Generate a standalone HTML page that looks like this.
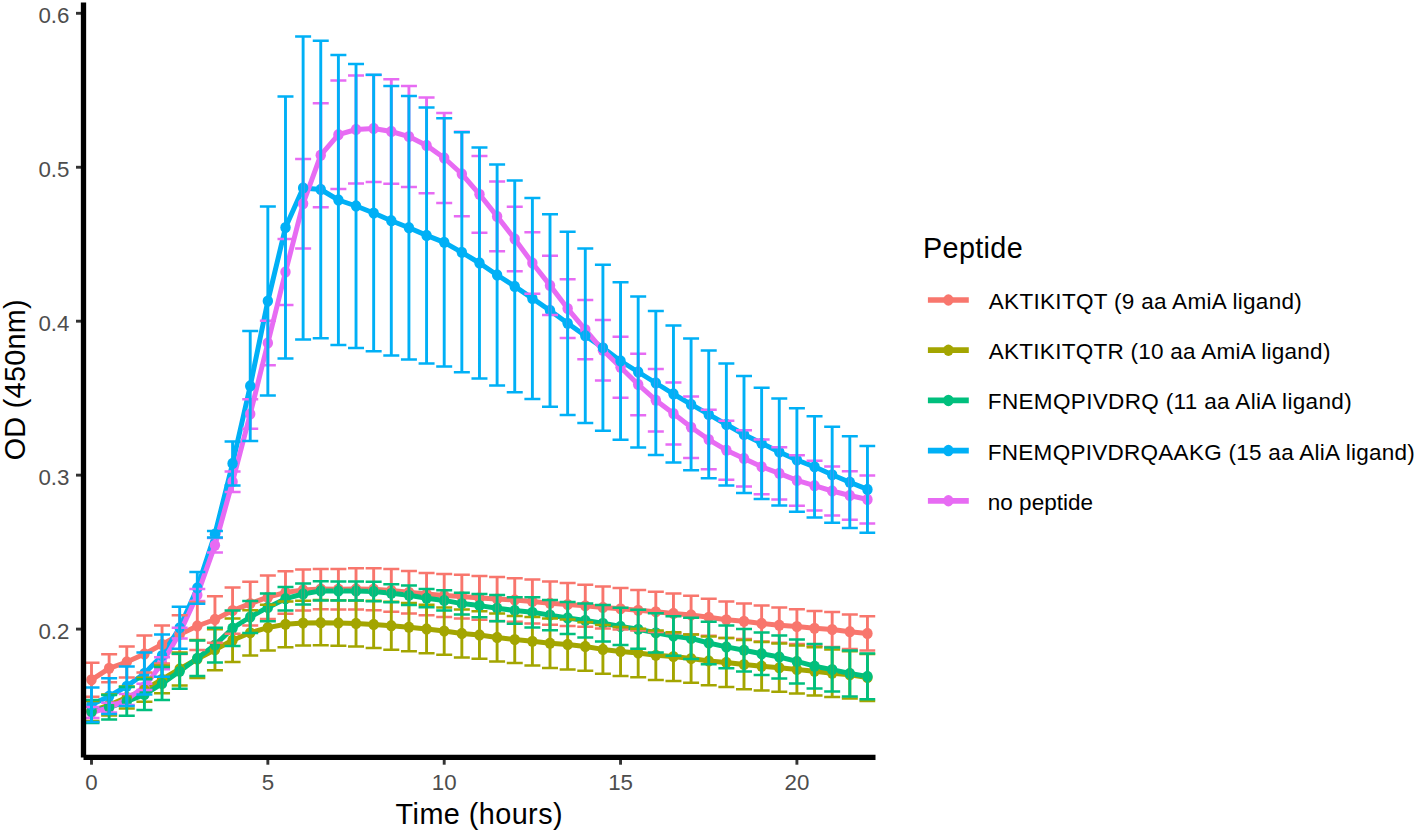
<!DOCTYPE html>
<html>
<head>
<meta charset="utf-8">
<title>Peptide growth curves</title>
<style>
html, body { margin: 0; padding: 0; background: #ffffff; }
body { width: 1416px; height: 833px; overflow: hidden; font-family: "Liberation Sans", sans-serif; }
svg { display: block; position: absolute; left: 0; top: 0; }
svg text { font-family: "Liberation Sans", sans-serif; }
</style>
</head>
<body>
<svg width="1416" height="833" viewBox="0 0 1416 833">
<defs><clipPath id="panel"><rect x="83.5" y="0" width="792" height="757.2"/></clipPath></defs>
<rect x="0" y="0" width="1416" height="833" fill="#ffffff"/>
<g clip-path="url(#panel)">
<polyline fill="none" stroke="#F8766D" stroke-width="5.0" stroke-linejoin="round" stroke-linecap="butt" points="91.5,679.8 109.14,668.3 126.77,662 144.41,654 162.04,644.5 179.68,634.6 197.31,626 214.94,619.5 232.58,610.6 250.22,603.6 267.85,597.2 285.49,592.5 303.12,589.9 320.75,589.1 338.39,589.2 356.03,588.9 373.66,589.2 391.3,590.4 408.93,592.3 426.57,594.1 444.2,595.5 461.84,596.6 479.47,597.9 497.11,599 514.74,600 532.38,601.5 550.01,603.2 567.64,604.6 585.28,605.8 602.91,607.4 620.55,608.8 638.19,610.3 655.82,611.8 673.46,613.4 691.09,615 708.73,617.3 726.36,619.8 744,621.3 761.63,623.5 779.27,625.2 796.9,626.6 814.54,628.3 832.17,629.6 849.81,631.7 867.44,633.4"/>
<polyline fill="none" stroke="#A3A500" stroke-width="5.0" stroke-linejoin="round" stroke-linecap="butt" points="91.5,711 109.14,705 126.77,697.5 144.41,689.8 162.04,679.3 179.68,669 197.31,659 214.94,649.8 232.58,640.2 250.22,632.8 267.85,627.6 285.49,624.3 303.12,623.1 320.75,622.7 338.39,623 356.03,623.4 373.66,624.4 391.3,625.7 408.93,627.2 426.57,629 444.2,631.1 461.84,633.5 479.47,635 497.11,637.5 514.74,639.6 532.38,641.3 550.01,643.2 567.64,644.5 585.28,646.5 602.91,649.4 620.55,651.4 638.19,653 655.82,655.3 673.46,656.6 691.09,658.6 708.73,660.9 726.36,662.4 744,664.6 761.63,666.2 779.27,667.7 796.9,669.4 814.54,671.3 832.17,673.2 849.81,674.85 867.44,677.5"/>
<polyline fill="none" stroke="#00BF7D" stroke-width="5.0" stroke-linejoin="round" stroke-linecap="butt" points="91.5,711.5 109.14,707.3 126.77,701.4 144.41,694.6 162.04,683.6 179.68,671.3 197.31,658.3 214.94,645.1 232.58,628.2 250.22,617 267.85,607.4 285.49,598.7 303.12,594 320.75,590.9 338.39,590.9 356.03,591 373.66,591.5 391.3,593.3 408.93,595.3 426.57,598.2 444.2,600.4 461.84,603.6 479.47,605.6 497.11,608.2 514.74,610.5 532.38,612.3 550.01,615.1 567.64,618 585.28,620.4 602.91,623.3 620.55,626.4 638.19,629.3 655.82,632.8 673.46,636 691.09,638.4 708.73,643 726.36,646.9 744,650.2 761.63,653.7 779.27,657 796.9,661.4 814.54,666.2 832.17,669.6 849.81,673.5 867.44,676.4"/>
<polyline fill="none" stroke="#00B0F6" stroke-width="5.0" stroke-linejoin="round" stroke-linecap="butt" points="91.5,704.7 109.14,696.2 126.77,686.3 144.41,673.5 162.04,655.6 179.68,627.8 197.31,587.9 214.94,534.2 232.58,463.5 250.22,386 267.85,301.1 285.49,227.6 303.12,188 320.75,189.5 338.39,200 356.03,206 373.66,213.05 391.3,220.7 408.93,227.75 426.57,235.4 444.2,242.3 461.84,252.3 479.47,263 497.11,275 514.74,286.4 532.38,298.4 550.01,310.5 567.64,323.3 585.28,335.7 602.91,347.8 620.55,361 638.19,372 655.82,383 673.46,394 691.09,404.4 708.73,414.4 726.36,424.5 744,434.5 761.63,443.3 779.27,452 796.9,460 814.54,466.8 832.17,474.8 849.81,482.2 867.44,489.4"/>
<polyline fill="none" stroke="#E76BF3" stroke-width="5.0" stroke-linejoin="round" stroke-linecap="butt" points="91.5,712.6 109.14,707.6 126.77,699.6 144.41,686.8 162.04,663.2 179.68,633.2 197.31,594.9 214.94,545.3 232.58,481.7 250.22,414 267.85,343 285.49,272 303.12,203.7 320.75,155.2 338.39,134.7 356.03,129.5 373.66,128.5 391.3,131.5 408.93,136.6 426.57,145.4 444.2,158 461.84,174 479.47,194.3 497.11,216.4 514.74,239 532.38,263 550.01,285.4 567.64,308.6 585.28,329.6 602.91,350.3 620.55,367.2 638.19,384.5 655.82,400.2 673.46,413.6 691.09,427.3 708.73,439.55 726.36,450.2 744,458.45 761.63,466.8 779.27,473.35 796.9,480.4 814.54,485.65 832.17,491 849.81,495.5 867.44,499.5"/>
<g fill="#E76BF3">
<ellipse cx="91.5" cy="712.6" rx="5.2" ry="5.65"/>
<ellipse cx="109.14" cy="707.6" rx="5.2" ry="5.65"/>
<ellipse cx="126.77" cy="699.6" rx="5.2" ry="5.65"/>
<ellipse cx="144.41" cy="686.8" rx="5.2" ry="5.65"/>
<ellipse cx="162.04" cy="663.2" rx="5.2" ry="5.65"/>
<ellipse cx="179.68" cy="633.2" rx="5.2" ry="5.65"/>
<ellipse cx="197.31" cy="594.9" rx="5.2" ry="5.65"/>
<ellipse cx="214.94" cy="545.3" rx="5.2" ry="5.65"/>
<ellipse cx="232.58" cy="481.7" rx="5.2" ry="5.65"/>
<ellipse cx="250.22" cy="414" rx="5.2" ry="5.65"/>
<ellipse cx="267.85" cy="343" rx="5.2" ry="5.65"/>
<ellipse cx="285.49" cy="272" rx="5.2" ry="5.65"/>
<ellipse cx="303.12" cy="203.7" rx="5.2" ry="5.65"/>
<ellipse cx="320.75" cy="155.2" rx="5.2" ry="5.65"/>
<ellipse cx="338.39" cy="134.7" rx="5.2" ry="5.65"/>
<ellipse cx="356.03" cy="129.5" rx="5.2" ry="5.65"/>
<ellipse cx="373.66" cy="128.5" rx="5.2" ry="5.65"/>
<ellipse cx="391.3" cy="131.5" rx="5.2" ry="5.65"/>
<ellipse cx="408.93" cy="136.6" rx="5.2" ry="5.65"/>
<ellipse cx="426.57" cy="145.4" rx="5.2" ry="5.65"/>
<ellipse cx="444.2" cy="158" rx="5.2" ry="5.65"/>
<ellipse cx="461.84" cy="174" rx="5.2" ry="5.65"/>
<ellipse cx="479.47" cy="194.3" rx="5.2" ry="5.65"/>
<ellipse cx="497.11" cy="216.4" rx="5.2" ry="5.65"/>
<ellipse cx="514.74" cy="239" rx="5.2" ry="5.65"/>
<ellipse cx="532.38" cy="263" rx="5.2" ry="5.65"/>
<ellipse cx="550.01" cy="285.4" rx="5.2" ry="5.65"/>
<ellipse cx="567.64" cy="308.6" rx="5.2" ry="5.65"/>
<ellipse cx="585.28" cy="329.6" rx="5.2" ry="5.65"/>
<ellipse cx="602.91" cy="350.3" rx="5.2" ry="5.65"/>
<ellipse cx="620.55" cy="367.2" rx="5.2" ry="5.65"/>
<ellipse cx="638.19" cy="384.5" rx="5.2" ry="5.65"/>
<ellipse cx="655.82" cy="400.2" rx="5.2" ry="5.65"/>
<ellipse cx="673.46" cy="413.6" rx="5.2" ry="5.65"/>
<ellipse cx="691.09" cy="427.3" rx="5.2" ry="5.65"/>
<ellipse cx="708.73" cy="439.55" rx="5.2" ry="5.65"/>
<ellipse cx="726.36" cy="450.2" rx="5.2" ry="5.65"/>
<ellipse cx="744" cy="458.45" rx="5.2" ry="5.65"/>
<ellipse cx="761.63" cy="466.8" rx="5.2" ry="5.65"/>
<ellipse cx="779.27" cy="473.35" rx="5.2" ry="5.65"/>
<ellipse cx="796.9" cy="480.4" rx="5.2" ry="5.65"/>
<ellipse cx="814.54" cy="485.65" rx="5.2" ry="5.65"/>
<ellipse cx="832.17" cy="491" rx="5.2" ry="5.65"/>
<ellipse cx="849.81" cy="495.5" rx="5.2" ry="5.65"/>
<ellipse cx="867.44" cy="499.5" rx="5.2" ry="5.65"/>
</g>
<g fill="#F8766D">
<ellipse cx="91.5" cy="679.8" rx="5.2" ry="5.65"/>
<ellipse cx="109.14" cy="668.3" rx="5.2" ry="5.65"/>
<ellipse cx="126.77" cy="662" rx="5.2" ry="5.65"/>
<ellipse cx="144.41" cy="654" rx="5.2" ry="5.65"/>
<ellipse cx="162.04" cy="644.5" rx="5.2" ry="5.65"/>
<ellipse cx="179.68" cy="634.6" rx="5.2" ry="5.65"/>
<ellipse cx="197.31" cy="626" rx="5.2" ry="5.65"/>
<ellipse cx="214.94" cy="619.5" rx="5.2" ry="5.65"/>
<ellipse cx="232.58" cy="610.6" rx="5.2" ry="5.65"/>
<ellipse cx="250.22" cy="603.6" rx="5.2" ry="5.65"/>
<ellipse cx="267.85" cy="597.2" rx="5.2" ry="5.65"/>
<ellipse cx="285.49" cy="592.5" rx="5.2" ry="5.65"/>
<ellipse cx="303.12" cy="589.9" rx="5.2" ry="5.65"/>
<ellipse cx="320.75" cy="589.1" rx="5.2" ry="5.65"/>
<ellipse cx="338.39" cy="589.2" rx="5.2" ry="5.65"/>
<ellipse cx="356.03" cy="588.9" rx="5.2" ry="5.65"/>
<ellipse cx="373.66" cy="589.2" rx="5.2" ry="5.65"/>
<ellipse cx="391.3" cy="590.4" rx="5.2" ry="5.65"/>
<ellipse cx="408.93" cy="592.3" rx="5.2" ry="5.65"/>
<ellipse cx="426.57" cy="594.1" rx="5.2" ry="5.65"/>
<ellipse cx="444.2" cy="595.5" rx="5.2" ry="5.65"/>
<ellipse cx="461.84" cy="596.6" rx="5.2" ry="5.65"/>
<ellipse cx="479.47" cy="597.9" rx="5.2" ry="5.65"/>
<ellipse cx="497.11" cy="599" rx="5.2" ry="5.65"/>
<ellipse cx="514.74" cy="600" rx="5.2" ry="5.65"/>
<ellipse cx="532.38" cy="601.5" rx="5.2" ry="5.65"/>
<ellipse cx="550.01" cy="603.2" rx="5.2" ry="5.65"/>
<ellipse cx="567.64" cy="604.6" rx="5.2" ry="5.65"/>
<ellipse cx="585.28" cy="605.8" rx="5.2" ry="5.65"/>
<ellipse cx="602.91" cy="607.4" rx="5.2" ry="5.65"/>
<ellipse cx="620.55" cy="608.8" rx="5.2" ry="5.65"/>
<ellipse cx="638.19" cy="610.3" rx="5.2" ry="5.65"/>
<ellipse cx="655.82" cy="611.8" rx="5.2" ry="5.65"/>
<ellipse cx="673.46" cy="613.4" rx="5.2" ry="5.65"/>
<ellipse cx="691.09" cy="615" rx="5.2" ry="5.65"/>
<ellipse cx="708.73" cy="617.3" rx="5.2" ry="5.65"/>
<ellipse cx="726.36" cy="619.8" rx="5.2" ry="5.65"/>
<ellipse cx="744" cy="621.3" rx="5.2" ry="5.65"/>
<ellipse cx="761.63" cy="623.5" rx="5.2" ry="5.65"/>
<ellipse cx="779.27" cy="625.2" rx="5.2" ry="5.65"/>
<ellipse cx="796.9" cy="626.6" rx="5.2" ry="5.65"/>
<ellipse cx="814.54" cy="628.3" rx="5.2" ry="5.65"/>
<ellipse cx="832.17" cy="629.6" rx="5.2" ry="5.65"/>
<ellipse cx="849.81" cy="631.7" rx="5.2" ry="5.65"/>
<ellipse cx="867.44" cy="633.4" rx="5.2" ry="5.65"/>
</g>
<g fill="#A3A500">
<ellipse cx="91.5" cy="711" rx="5.2" ry="5.65"/>
<ellipse cx="109.14" cy="705" rx="5.2" ry="5.65"/>
<ellipse cx="126.77" cy="697.5" rx="5.2" ry="5.65"/>
<ellipse cx="144.41" cy="689.8" rx="5.2" ry="5.65"/>
<ellipse cx="162.04" cy="679.3" rx="5.2" ry="5.65"/>
<ellipse cx="179.68" cy="669" rx="5.2" ry="5.65"/>
<ellipse cx="197.31" cy="659" rx="5.2" ry="5.65"/>
<ellipse cx="214.94" cy="649.8" rx="5.2" ry="5.65"/>
<ellipse cx="232.58" cy="640.2" rx="5.2" ry="5.65"/>
<ellipse cx="250.22" cy="632.8" rx="5.2" ry="5.65"/>
<ellipse cx="267.85" cy="627.6" rx="5.2" ry="5.65"/>
<ellipse cx="285.49" cy="624.3" rx="5.2" ry="5.65"/>
<ellipse cx="303.12" cy="623.1" rx="5.2" ry="5.65"/>
<ellipse cx="320.75" cy="622.7" rx="5.2" ry="5.65"/>
<ellipse cx="338.39" cy="623" rx="5.2" ry="5.65"/>
<ellipse cx="356.03" cy="623.4" rx="5.2" ry="5.65"/>
<ellipse cx="373.66" cy="624.4" rx="5.2" ry="5.65"/>
<ellipse cx="391.3" cy="625.7" rx="5.2" ry="5.65"/>
<ellipse cx="408.93" cy="627.2" rx="5.2" ry="5.65"/>
<ellipse cx="426.57" cy="629" rx="5.2" ry="5.65"/>
<ellipse cx="444.2" cy="631.1" rx="5.2" ry="5.65"/>
<ellipse cx="461.84" cy="633.5" rx="5.2" ry="5.65"/>
<ellipse cx="479.47" cy="635" rx="5.2" ry="5.65"/>
<ellipse cx="497.11" cy="637.5" rx="5.2" ry="5.65"/>
<ellipse cx="514.74" cy="639.6" rx="5.2" ry="5.65"/>
<ellipse cx="532.38" cy="641.3" rx="5.2" ry="5.65"/>
<ellipse cx="550.01" cy="643.2" rx="5.2" ry="5.65"/>
<ellipse cx="567.64" cy="644.5" rx="5.2" ry="5.65"/>
<ellipse cx="585.28" cy="646.5" rx="5.2" ry="5.65"/>
<ellipse cx="602.91" cy="649.4" rx="5.2" ry="5.65"/>
<ellipse cx="620.55" cy="651.4" rx="5.2" ry="5.65"/>
<ellipse cx="638.19" cy="653" rx="5.2" ry="5.65"/>
<ellipse cx="655.82" cy="655.3" rx="5.2" ry="5.65"/>
<ellipse cx="673.46" cy="656.6" rx="5.2" ry="5.65"/>
<ellipse cx="691.09" cy="658.6" rx="5.2" ry="5.65"/>
<ellipse cx="708.73" cy="660.9" rx="5.2" ry="5.65"/>
<ellipse cx="726.36" cy="662.4" rx="5.2" ry="5.65"/>
<ellipse cx="744" cy="664.6" rx="5.2" ry="5.65"/>
<ellipse cx="761.63" cy="666.2" rx="5.2" ry="5.65"/>
<ellipse cx="779.27" cy="667.7" rx="5.2" ry="5.65"/>
<ellipse cx="796.9" cy="669.4" rx="5.2" ry="5.65"/>
<ellipse cx="814.54" cy="671.3" rx="5.2" ry="5.65"/>
<ellipse cx="832.17" cy="673.2" rx="5.2" ry="5.65"/>
<ellipse cx="849.81" cy="674.85" rx="5.2" ry="5.65"/>
<ellipse cx="867.44" cy="677.5" rx="5.2" ry="5.65"/>
</g>
<g fill="#00BF7D">
<ellipse cx="91.5" cy="711.5" rx="5.2" ry="5.65"/>
<ellipse cx="109.14" cy="707.3" rx="5.2" ry="5.65"/>
<ellipse cx="126.77" cy="701.4" rx="5.2" ry="5.65"/>
<ellipse cx="144.41" cy="694.6" rx="5.2" ry="5.65"/>
<ellipse cx="162.04" cy="683.6" rx="5.2" ry="5.65"/>
<ellipse cx="179.68" cy="671.3" rx="5.2" ry="5.65"/>
<ellipse cx="197.31" cy="658.3" rx="5.2" ry="5.65"/>
<ellipse cx="214.94" cy="645.1" rx="5.2" ry="5.65"/>
<ellipse cx="232.58" cy="628.2" rx="5.2" ry="5.65"/>
<ellipse cx="250.22" cy="617" rx="5.2" ry="5.65"/>
<ellipse cx="267.85" cy="607.4" rx="5.2" ry="5.65"/>
<ellipse cx="285.49" cy="598.7" rx="5.2" ry="5.65"/>
<ellipse cx="303.12" cy="594" rx="5.2" ry="5.65"/>
<ellipse cx="320.75" cy="590.9" rx="5.2" ry="5.65"/>
<ellipse cx="338.39" cy="590.9" rx="5.2" ry="5.65"/>
<ellipse cx="356.03" cy="591" rx="5.2" ry="5.65"/>
<ellipse cx="373.66" cy="591.5" rx="5.2" ry="5.65"/>
<ellipse cx="391.3" cy="593.3" rx="5.2" ry="5.65"/>
<ellipse cx="408.93" cy="595.3" rx="5.2" ry="5.65"/>
<ellipse cx="426.57" cy="598.2" rx="5.2" ry="5.65"/>
<ellipse cx="444.2" cy="600.4" rx="5.2" ry="5.65"/>
<ellipse cx="461.84" cy="603.6" rx="5.2" ry="5.65"/>
<ellipse cx="479.47" cy="605.6" rx="5.2" ry="5.65"/>
<ellipse cx="497.11" cy="608.2" rx="5.2" ry="5.65"/>
<ellipse cx="514.74" cy="610.5" rx="5.2" ry="5.65"/>
<ellipse cx="532.38" cy="612.3" rx="5.2" ry="5.65"/>
<ellipse cx="550.01" cy="615.1" rx="5.2" ry="5.65"/>
<ellipse cx="567.64" cy="618" rx="5.2" ry="5.65"/>
<ellipse cx="585.28" cy="620.4" rx="5.2" ry="5.65"/>
<ellipse cx="602.91" cy="623.3" rx="5.2" ry="5.65"/>
<ellipse cx="620.55" cy="626.4" rx="5.2" ry="5.65"/>
<ellipse cx="638.19" cy="629.3" rx="5.2" ry="5.65"/>
<ellipse cx="655.82" cy="632.8" rx="5.2" ry="5.65"/>
<ellipse cx="673.46" cy="636" rx="5.2" ry="5.65"/>
<ellipse cx="691.09" cy="638.4" rx="5.2" ry="5.65"/>
<ellipse cx="708.73" cy="643" rx="5.2" ry="5.65"/>
<ellipse cx="726.36" cy="646.9" rx="5.2" ry="5.65"/>
<ellipse cx="744" cy="650.2" rx="5.2" ry="5.65"/>
<ellipse cx="761.63" cy="653.7" rx="5.2" ry="5.65"/>
<ellipse cx="779.27" cy="657" rx="5.2" ry="5.65"/>
<ellipse cx="796.9" cy="661.4" rx="5.2" ry="5.65"/>
<ellipse cx="814.54" cy="666.2" rx="5.2" ry="5.65"/>
<ellipse cx="832.17" cy="669.6" rx="5.2" ry="5.65"/>
<ellipse cx="849.81" cy="673.5" rx="5.2" ry="5.65"/>
<ellipse cx="867.44" cy="676.4" rx="5.2" ry="5.65"/>
</g>
<g fill="#00B0F6">
<ellipse cx="91.5" cy="704.7" rx="5.2" ry="5.65"/>
<ellipse cx="109.14" cy="696.2" rx="5.2" ry="5.65"/>
<ellipse cx="126.77" cy="686.3" rx="5.2" ry="5.65"/>
<ellipse cx="144.41" cy="673.5" rx="5.2" ry="5.65"/>
<ellipse cx="162.04" cy="655.6" rx="5.2" ry="5.65"/>
<ellipse cx="179.68" cy="627.8" rx="5.2" ry="5.65"/>
<ellipse cx="197.31" cy="587.9" rx="5.2" ry="5.65"/>
<ellipse cx="214.94" cy="534.2" rx="5.2" ry="5.65"/>
<ellipse cx="232.58" cy="463.5" rx="5.2" ry="5.65"/>
<ellipse cx="250.22" cy="386" rx="5.2" ry="5.65"/>
<ellipse cx="267.85" cy="301.1" rx="5.2" ry="5.65"/>
<ellipse cx="285.49" cy="227.6" rx="5.2" ry="5.65"/>
<ellipse cx="303.12" cy="188" rx="5.2" ry="5.65"/>
<ellipse cx="320.75" cy="189.5" rx="5.2" ry="5.65"/>
<ellipse cx="338.39" cy="200" rx="5.2" ry="5.65"/>
<ellipse cx="356.03" cy="206" rx="5.2" ry="5.65"/>
<ellipse cx="373.66" cy="213.05" rx="5.2" ry="5.65"/>
<ellipse cx="391.3" cy="220.7" rx="5.2" ry="5.65"/>
<ellipse cx="408.93" cy="227.75" rx="5.2" ry="5.65"/>
<ellipse cx="426.57" cy="235.4" rx="5.2" ry="5.65"/>
<ellipse cx="444.2" cy="242.3" rx="5.2" ry="5.65"/>
<ellipse cx="461.84" cy="252.3" rx="5.2" ry="5.65"/>
<ellipse cx="479.47" cy="263" rx="5.2" ry="5.65"/>
<ellipse cx="497.11" cy="275" rx="5.2" ry="5.65"/>
<ellipse cx="514.74" cy="286.4" rx="5.2" ry="5.65"/>
<ellipse cx="532.38" cy="298.4" rx="5.2" ry="5.65"/>
<ellipse cx="550.01" cy="310.5" rx="5.2" ry="5.65"/>
<ellipse cx="567.64" cy="323.3" rx="5.2" ry="5.65"/>
<ellipse cx="585.28" cy="335.7" rx="5.2" ry="5.65"/>
<ellipse cx="602.91" cy="347.8" rx="5.2" ry="5.65"/>
<ellipse cx="620.55" cy="361" rx="5.2" ry="5.65"/>
<ellipse cx="638.19" cy="372" rx="5.2" ry="5.65"/>
<ellipse cx="655.82" cy="383" rx="5.2" ry="5.65"/>
<ellipse cx="673.46" cy="394" rx="5.2" ry="5.65"/>
<ellipse cx="691.09" cy="404.4" rx="5.2" ry="5.65"/>
<ellipse cx="708.73" cy="414.4" rx="5.2" ry="5.65"/>
<ellipse cx="726.36" cy="424.5" rx="5.2" ry="5.65"/>
<ellipse cx="744" cy="434.5" rx="5.2" ry="5.65"/>
<ellipse cx="761.63" cy="443.3" rx="5.2" ry="5.65"/>
<ellipse cx="779.27" cy="452" rx="5.2" ry="5.65"/>
<ellipse cx="796.9" cy="460" rx="5.2" ry="5.65"/>
<ellipse cx="814.54" cy="466.8" rx="5.2" ry="5.65"/>
<ellipse cx="832.17" cy="474.8" rx="5.2" ry="5.65"/>
<ellipse cx="849.81" cy="482.2" rx="5.2" ry="5.65"/>
<ellipse cx="867.44" cy="489.4" rx="5.2" ry="5.65"/>
</g>
<path fill="none" stroke="#E76BF3" stroke-width="2.9" d="M91.5 707.1V718.1M109.14 702.8V712.4M126.77 694.1V705.1M144.41 683.7V689.9M162.04 657.2V669.2M179.68 627.8V638.6M197.31 588.9V600.9M214.94 538V552.6M232.58 471.4V492M250.22 399.3V428.7M267.85 320.8V365.2M285.49 238.9V305.1M303.12 159V248.4M320.75 103.2V207.2M338.39 80.5V188.9M356.03 75.5V183.5M373.66 75.1V181.9M391.3 79.3V183.7M408.93 86.1V187.1M426.57 97.6V193.2M444.2 113.1V202.9M461.84 131.8V216.2M479.47 155.9V232.7M497.11 181.55V251.25M514.74 206.65V271.35M532.38 232.25V293.75M550.01 255.8V315M567.64 279.3V337.9M585.28 300V359.2M602.91 320.1V380.5M620.55 336.7V397.7M638.19 353.7V415.3M655.82 368.9V431.5M673.46 382.6V444.6M691.09 396.55V458.05M708.73 409.8V469.3M726.36 420.7V479.7M744 430.3V486.6M761.63 439.4V494.2M779.27 447.2V499.5M796.9 455.15V505.65M814.54 460.7V510.6M832.17 466.55V515.45M849.81 471.3V519.7M867.44 475.4V523.6"/>
<path fill="none" stroke="#E76BF3" stroke-width="2.5" d="M83.5 707.1H99.5M83.5 718.1H99.5M101.14 702.8H117.14M101.14 712.4H117.14M118.77 694.1H134.77M118.77 705.1H134.77M136.41 683.7H152.41M136.41 689.9H152.41M154.04 657.2H170.04M154.04 669.2H170.04M171.68 627.8H187.68M171.68 638.6H187.68M189.31 588.9H205.31M189.31 600.9H205.31M206.94 538H222.94M206.94 552.6H222.94M224.58 471.4H240.58M224.58 492H240.58M242.22 399.3H258.22M242.22 428.7H258.22M259.85 320.8H275.85M259.85 365.2H275.85M277.49 238.9H293.49M277.49 305.1H293.49M295.12 159H311.12M295.12 248.4H311.12M312.75 103.2H328.75M312.75 207.2H328.75M330.39 80.5H346.39M330.39 188.9H346.39M348.03 75.5H364.03M348.03 183.5H364.03M365.66 75.1H381.66M365.66 181.9H381.66M383.3 79.3H399.3M383.3 183.7H399.3M400.93 86.1H416.93M400.93 187.1H416.93M418.57 97.6H434.57M418.57 193.2H434.57M436.2 113.1H452.2M436.2 202.9H452.2M453.84 131.8H469.84M453.84 216.2H469.84M471.47 155.9H487.47M471.47 232.7H487.47M489.11 181.55H505.11M489.11 251.25H505.11M506.74 206.65H522.74M506.74 271.35H522.74M524.38 232.25H540.38M524.38 293.75H540.38M542.01 255.8H558.01M542.01 315H558.01M559.64 279.3H575.64M559.64 337.9H575.64M577.28 300H593.28M577.28 359.2H593.28M594.91 320.1H610.91M594.91 380.5H610.91M612.55 336.7H628.55M612.55 397.7H628.55M630.19 353.7H646.19M630.19 415.3H646.19M647.82 368.9H663.82M647.82 431.5H663.82M665.46 382.6H681.46M665.46 444.6H681.46M683.09 396.55H699.09M683.09 458.05H699.09M700.73 409.8H716.73M700.73 469.3H716.73M718.36 420.7H734.36M718.36 479.7H734.36M736 430.3H752M736 486.6H752M753.63 439.4H769.63M753.63 494.2H769.63M771.27 447.2H787.27M771.27 499.5H787.27M788.9 455.15H804.9M788.9 505.65H804.9M806.54 460.7H822.54M806.54 510.6H822.54M824.17 466.55H840.17M824.17 515.45H840.17M841.81 471.3H857.81M841.81 519.7H857.81M859.44 475.4H875.44M859.44 523.6H875.44"/>
<path fill="none" stroke="#F8766D" stroke-width="2.9" d="M91.5 662.8V696.8M109.14 654.3V682.3M126.77 646.5V677.5M144.41 635.5V672.5M162.04 625.5V663.5M179.68 615.3V653.9M197.31 602V650M214.94 596.3V642.7M232.58 587.4V633.8M250.22 581.7V625.5M267.85 575.4V619M285.49 571.2V613.8M303.12 569.4V610.4M320.75 568.9V609.3M338.39 569V609.4M356.03 568.2V609.6M373.66 568.2V610.2M391.3 569V611.8M408.93 571V613.6M426.57 572.9V615.3M444.2 574V617M461.84 574.8V618.4M479.47 576.1V619.7M497.11 577.1V620.9M514.74 578.2V621.8M532.38 579.6V623.4M550.01 581.6V624.8M567.64 583.1V626.1M585.28 584.8V626.8M602.91 586.4V628.4M620.55 588.1V629.5M638.19 590V630.6M655.82 591.7V631.9M673.46 593.6V633.2M691.09 595.8V634.2M708.73 598.8V635.8M726.36 601.5V638.1M744 603.5V639.1M761.63 605.6V641.4M779.27 607.55V642.85M796.9 609.2V644M814.54 610.9V645.7M832.17 612.1V647.1M849.81 614.4V649M867.44 616.3V650.5"/>
<path fill="none" stroke="#F8766D" stroke-width="2.5" d="M83.5 662.8H99.5M83.5 696.8H99.5M101.14 654.3H117.14M101.14 682.3H117.14M118.77 646.5H134.77M118.77 677.5H134.77M136.41 635.5H152.41M136.41 672.5H152.41M154.04 625.5H170.04M154.04 663.5H170.04M171.68 615.3H187.68M171.68 653.9H187.68M189.31 602H205.31M189.31 650H205.31M206.94 596.3H222.94M206.94 642.7H222.94M224.58 587.4H240.58M224.58 633.8H240.58M242.22 581.7H258.22M242.22 625.5H258.22M259.85 575.4H275.85M259.85 619H275.85M277.49 571.2H293.49M277.49 613.8H293.49M295.12 569.4H311.12M295.12 610.4H311.12M312.75 568.9H328.75M312.75 609.3H328.75M330.39 569H346.39M330.39 609.4H346.39M348.03 568.2H364.03M348.03 609.6H364.03M365.66 568.2H381.66M365.66 610.2H381.66M383.3 569H399.3M383.3 611.8H399.3M400.93 571H416.93M400.93 613.6H416.93M418.57 572.9H434.57M418.57 615.3H434.57M436.2 574H452.2M436.2 617H452.2M453.84 574.8H469.84M453.84 618.4H469.84M471.47 576.1H487.47M471.47 619.7H487.47M489.11 577.1H505.11M489.11 620.9H505.11M506.74 578.2H522.74M506.74 621.8H522.74M524.38 579.6H540.38M524.38 623.4H540.38M542.01 581.6H558.01M542.01 624.8H558.01M559.64 583.1H575.64M559.64 626.1H575.64M577.28 584.8H593.28M577.28 626.8H593.28M594.91 586.4H610.91M594.91 628.4H610.91M612.55 588.1H628.55M612.55 629.5H628.55M630.19 590H646.19M630.19 630.6H646.19M647.82 591.7H663.82M647.82 631.9H663.82M665.46 593.6H681.46M665.46 633.2H681.46M683.09 595.8H699.09M683.09 634.2H699.09M700.73 598.8H716.73M700.73 635.8H716.73M718.36 601.5H734.36M718.36 638.1H734.36M736 603.5H752M736 639.1H752M753.63 605.6H769.63M753.63 641.4H769.63M771.27 607.55H787.27M771.27 642.85H787.27M788.9 609.2H804.9M788.9 644H804.9M806.54 610.9H822.54M806.54 645.7H822.54M824.17 612.1H840.17M824.17 647.1H840.17M841.81 614.4H857.81M841.81 649H857.81M859.44 616.3H875.44M859.44 650.5H875.44"/>
<path fill="none" stroke="#A3A500" stroke-width="2.9" d="M91.5 701V721M109.14 694.5V715.5M126.77 686.5V708.5M144.41 677.8V701.8M162.04 665.4V693.2M179.68 652.5V685.5M197.31 640V678M214.94 629.3V670.3M232.58 618.4V662M250.22 610.2V655.4M267.85 604.8V650.4M285.49 601.4V647.2M303.12 600.8V645.4M320.75 600.1V645.3M338.39 600.2V645.8M356.03 600.4V646.4M373.66 600.8V648M391.3 601.7V649.7M408.93 603.1V651.3M426.57 604.7V653.3M444.2 607.5V654.7M461.84 609.5V657.5M479.47 611.2V658.8M497.11 613.4V661.6M514.74 616.1V663.1M532.38 617.1V665.5M550.01 618.4V668M567.64 619.5V669.5M585.28 622.2V670.8M602.91 625.1V673.7M620.55 626.9V675.9M638.19 628.65V677.35M655.82 630.5V680.1M673.46 632.25V680.95M691.09 634.4V682.8M708.73 636.55V685.25M726.36 637.9V686.9M744 639.9V689.3M761.63 642V690.4M779.27 643.6V691.8M796.9 645.4V693.4M814.54 647.2V695.4M832.17 649.5V696.9M849.81 651.2V698.5M867.44 654.1V700.9"/>
<path fill="none" stroke="#A3A500" stroke-width="2.5" d="M83.5 701H99.5M83.5 721H99.5M101.14 694.5H117.14M101.14 715.5H117.14M118.77 686.5H134.77M118.77 708.5H134.77M136.41 677.8H152.41M136.41 701.8H152.41M154.04 665.4H170.04M154.04 693.2H170.04M171.68 652.5H187.68M171.68 685.5H187.68M189.31 640H205.31M189.31 678H205.31M206.94 629.3H222.94M206.94 670.3H222.94M224.58 618.4H240.58M224.58 662H240.58M242.22 610.2H258.22M242.22 655.4H258.22M259.85 604.8H275.85M259.85 650.4H275.85M277.49 601.4H293.49M277.49 647.2H293.49M295.12 600.8H311.12M295.12 645.4H311.12M312.75 600.1H328.75M312.75 645.3H328.75M330.39 600.2H346.39M330.39 645.8H346.39M348.03 600.4H364.03M348.03 646.4H364.03M365.66 600.8H381.66M365.66 648H381.66M383.3 601.7H399.3M383.3 649.7H399.3M400.93 603.1H416.93M400.93 651.3H416.93M418.57 604.7H434.57M418.57 653.3H434.57M436.2 607.5H452.2M436.2 654.7H452.2M453.84 609.5H469.84M453.84 657.5H469.84M471.47 611.2H487.47M471.47 658.8H487.47M489.11 613.4H505.11M489.11 661.6H505.11M506.74 616.1H522.74M506.74 663.1H522.74M524.38 617.1H540.38M524.38 665.5H540.38M542.01 618.4H558.01M542.01 668H558.01M559.64 619.5H575.64M559.64 669.5H575.64M577.28 622.2H593.28M577.28 670.8H593.28M594.91 625.1H610.91M594.91 673.7H610.91M612.55 626.9H628.55M612.55 675.9H628.55M630.19 628.65H646.19M630.19 677.35H646.19M647.82 630.5H663.82M647.82 680.1H663.82M665.46 632.25H681.46M665.46 680.95H681.46M683.09 634.4H699.09M683.09 682.8H699.09M700.73 636.55H716.73M700.73 685.25H716.73M718.36 637.9H734.36M718.36 686.9H734.36M736 639.9H752M736 689.3H752M753.63 642H769.63M753.63 690.4H769.63M771.27 643.6H787.27M771.27 691.8H787.27M788.9 645.4H804.9M788.9 693.4H804.9M806.54 647.2H822.54M806.54 695.4H822.54M824.17 649.5H840.17M824.17 696.9H840.17M841.81 651.2H857.81M841.81 698.5H857.81M859.44 654.1H875.44M859.44 700.9H875.44"/>
<path fill="none" stroke="#00BF7D" stroke-width="2.9" d="M91.5 699.9V723.1M109.14 695V719.6M126.77 687V715.8M144.41 679.2V710M162.04 667.1V700.1M179.68 653.8V688.8M197.31 640.6V676M214.94 627.7V662.5M232.58 610.5V645.9M250.22 601V633M267.85 593.6V621.2M285.49 586.9V610.5M303.12 583.5V604.5M320.75 581.2V600.6M338.39 581.4V600.4M356.03 581.5V600.5M373.66 581.8V601.2M391.3 584.3V602.3M408.93 585.5V605.1M426.57 589.1V607.3M444.2 590.3V610.5M461.84 592.8V614.4M479.47 593.9V617.3M497.11 595.1V621.3M514.74 597.2V623.8M532.38 597.2V627.4M550.01 600V630.2M567.64 602V634M585.28 603.4V637.4M602.91 605V641.6M620.55 607.7V645.1M638.19 609.8V648.8M655.82 613.2V652.4M673.46 616.3V655.7M691.09 617.8V659M708.73 621.8V664.2M726.36 625.5V668.3M744 629V671.4M761.63 632.4V675M779.27 635.4V678.6M796.9 639.4V683.4M814.54 644V688.4M832.17 647.6V691.6M849.81 650.5V696.5M867.44 653.6V699.2"/>
<path fill="none" stroke="#00BF7D" stroke-width="2.5" d="M83.5 699.9H99.5M83.5 723.1H99.5M101.14 695H117.14M101.14 719.6H117.14M118.77 687H134.77M118.77 715.8H134.77M136.41 679.2H152.41M136.41 710H152.41M154.04 667.1H170.04M154.04 700.1H170.04M171.68 653.8H187.68M171.68 688.8H187.68M189.31 640.6H205.31M189.31 676H205.31M206.94 627.7H222.94M206.94 662.5H222.94M224.58 610.5H240.58M224.58 645.9H240.58M242.22 601H258.22M242.22 633H258.22M259.85 593.6H275.85M259.85 621.2H275.85M277.49 586.9H293.49M277.49 610.5H293.49M295.12 583.5H311.12M295.12 604.5H311.12M312.75 581.2H328.75M312.75 600.6H328.75M330.39 581.4H346.39M330.39 600.4H346.39M348.03 581.5H364.03M348.03 600.5H364.03M365.66 581.8H381.66M365.66 601.2H381.66M383.3 584.3H399.3M383.3 602.3H399.3M400.93 585.5H416.93M400.93 605.1H416.93M418.57 589.1H434.57M418.57 607.3H434.57M436.2 590.3H452.2M436.2 610.5H452.2M453.84 592.8H469.84M453.84 614.4H469.84M471.47 593.9H487.47M471.47 617.3H487.47M489.11 595.1H505.11M489.11 621.3H505.11M506.74 597.2H522.74M506.74 623.8H522.74M524.38 597.2H540.38M524.38 627.4H540.38M542.01 600H558.01M542.01 630.2H558.01M559.64 602H575.64M559.64 634H575.64M577.28 603.4H593.28M577.28 637.4H593.28M594.91 605H610.91M594.91 641.6H610.91M612.55 607.7H628.55M612.55 645.1H628.55M630.19 609.8H646.19M630.19 648.8H646.19M647.82 613.2H663.82M647.82 652.4H663.82M665.46 616.3H681.46M665.46 655.7H681.46M683.09 617.8H699.09M683.09 659H699.09M700.73 621.8H716.73M700.73 664.2H716.73M718.36 625.5H734.36M718.36 668.3H734.36M736 629H752M736 671.4H752M753.63 632.4H769.63M753.63 675H769.63M771.27 635.4H787.27M771.27 678.6H787.27M788.9 639.4H804.9M788.9 683.4H804.9M806.54 644H822.54M806.54 688.4H822.54M824.17 647.6H840.17M824.17 691.6H840.17M841.81 650.5H857.81M841.81 696.5H857.81M859.44 653.6H875.44M859.44 699.2H875.44"/>
<path fill="none" stroke="#00B0F6" stroke-width="2.9" d="M91.5 687.4V722M109.14 678.3V714.1M126.77 666.5V706.1M144.41 652.4V694.6M162.04 634.4V676.8M179.68 606.8V648.8M197.31 572V603.8M214.94 531V537.4M232.58 441.6V485.4M250.22 331.1V440.9M267.85 206.6V395.6M285.49 96.6V358.6M303.12 36.6V339.4M320.75 40.65V338.35M338.39 55.1V344.9M356.03 63.9V348.1M373.66 74.8V351.3M391.3 85.9V355.5M408.93 96.1V359.4M426.57 107.4V363.4M444.2 118.2V366.4M461.84 132.3V372.3M479.47 147.4V378.6M497.11 164.45V385.55M514.74 180.55V392.25M532.38 197.9V398.9M550.01 214.2V406.8M567.64 231.7V414.9M585.28 248.5V422.9M602.91 264.85V430.75M620.55 282.3V439.7M638.19 296.55V447.45M655.82 310.9V455.1M673.46 325.45V462.55M691.09 338.55V470.25M708.73 350.45V478.35M726.36 363.5V485.5M744 376V493M761.63 387.7V498.9M779.27 398.4V505.6M796.9 408.15V511.85M814.54 416.15V517.45M832.17 426.8V522.8M849.81 436.3V528.1M867.44 446V532.8"/>
<path fill="none" stroke="#00B0F6" stroke-width="2.5" d="M83.5 687.4H99.5M83.5 722H99.5M101.14 678.3H117.14M101.14 714.1H117.14M118.77 666.5H134.77M118.77 706.1H134.77M136.41 652.4H152.41M136.41 694.6H152.41M154.04 634.4H170.04M154.04 676.8H170.04M171.68 606.8H187.68M171.68 648.8H187.68M189.31 572H205.31M189.31 603.8H205.31M206.94 531H222.94M206.94 537.4H222.94M224.58 441.6H240.58M224.58 485.4H240.58M242.22 331.1H258.22M242.22 440.9H258.22M259.85 206.6H275.85M259.85 395.6H275.85M277.49 96.6H293.49M277.49 358.6H293.49M295.12 36.6H311.12M295.12 339.4H311.12M312.75 40.65H328.75M312.75 338.35H328.75M330.39 55.1H346.39M330.39 344.9H346.39M348.03 63.9H364.03M348.03 348.1H364.03M365.66 74.8H381.66M365.66 351.3H381.66M383.3 85.9H399.3M383.3 355.5H399.3M400.93 96.1H416.93M400.93 359.4H416.93M418.57 107.4H434.57M418.57 363.4H434.57M436.2 118.2H452.2M436.2 366.4H452.2M453.84 132.3H469.84M453.84 372.3H469.84M471.47 147.4H487.47M471.47 378.6H487.47M489.11 164.45H505.11M489.11 385.55H505.11M506.74 180.55H522.74M506.74 392.25H522.74M524.38 197.9H540.38M524.38 398.9H540.38M542.01 214.2H558.01M542.01 406.8H558.01M559.64 231.7H575.64M559.64 414.9H575.64M577.28 248.5H593.28M577.28 422.9H593.28M594.91 264.85H610.91M594.91 430.75H610.91M612.55 282.3H628.55M612.55 439.7H628.55M630.19 296.55H646.19M630.19 447.45H646.19M647.82 310.9H663.82M647.82 455.1H663.82M665.46 325.45H681.46M665.46 462.55H681.46M683.09 338.55H699.09M683.09 470.25H699.09M700.73 350.45H716.73M700.73 478.35H716.73M718.36 363.5H734.36M718.36 485.5H734.36M736 376H752M736 493H752M753.63 387.7H769.63M753.63 498.9H769.63M771.27 398.4H787.27M771.27 505.6H787.27M788.9 408.15H804.9M788.9 511.85H804.9M806.54 416.15H822.54M806.54 517.45H822.54M824.17 426.8H840.17M824.17 522.8H840.17M841.81 436.3H857.81M841.81 528.1H857.81M859.44 446H875.44M859.44 532.8H875.44"/>
</g>
<g stroke="#333333" stroke-width="2.9">
<line x1="76" x2="83.5" y1="13.3" y2="13.3"/>
<line x1="76" x2="83.5" y1="167.25" y2="167.25"/>
<line x1="76" x2="83.5" y1="321.2" y2="321.2"/>
<line x1="76" x2="83.5" y1="475.15" y2="475.15"/>
<line x1="76" x2="83.5" y1="629.1" y2="629.1"/>
<line x1="91.5" x2="91.5" y1="757.4" y2="764.7"/>
<line x1="267.85" x2="267.85" y1="757.4" y2="764.7"/>
<line x1="444.2" x2="444.2" y1="757.4" y2="764.7"/>
<line x1="620.55" x2="620.55" y1="757.4" y2="764.7"/>
<line x1="796.9" x2="796.9" y1="757.4" y2="764.7"/>
</g>
<path d="M83.5 2.4V757.4M83.5 757.4H875.5" fill="none" stroke="#000" stroke-width="5.3" stroke-linecap="butt"/>
<g font-size="22.3" fill="#4D4D4D" text-anchor="end">
<text x="69.4" y="23">0.6</text>
<text x="69.4" y="176.95">0.5</text>
<text x="69.4" y="330.9">0.4</text>
<text x="69.4" y="484.85">0.3</text>
<text x="69.4" y="638.8">0.2</text>
</g>
<g font-size="22.3" fill="#4D4D4D" text-anchor="middle">
<text x="91.5" y="789.7">0</text>
<text x="267.85" y="789.7">5</text>
<text x="444.2" y="789.7">10</text>
<text x="620.55" y="789.7">15</text>
<text x="796.9" y="789.7">20</text>
</g>
<text x="479.3" y="824.3" font-size="28.8" letter-spacing="0.44" text-anchor="middle" fill="#000">Time (hours)</text>
<text transform="translate(25.2 379.7) rotate(-90)" font-size="28.8" letter-spacing="0.29" text-anchor="middle" fill="#000">OD (450nm)</text>
<text x="923" y="258" font-size="28.8" letter-spacing="0.33" fill="#000">Peptide</text>
<line x1="927.9" x2="968.8" y1="300" y2="300" stroke="#F8766D" stroke-width="5.7"/>
<ellipse cx="948.4" cy="300" rx="5.1" ry="5.75" fill="#F8766D"/>
<text x="988.8" y="309" font-size="22.5" letter-spacing="0.307" fill="#000">AKTIKITQT (9 aa AmiA ligand)</text>
<line x1="927.9" x2="968.8" y1="350.2" y2="350.2" stroke="#A3A500" stroke-width="5.7"/>
<ellipse cx="948.4" cy="350.2" rx="5.1" ry="5.75" fill="#A3A500"/>
<text x="988.8" y="359.2" font-size="22.5" letter-spacing="0.266" fill="#000">AKTIKITQTR (10 aa AmiA ligand)</text>
<line x1="927.9" x2="968.8" y1="400.4" y2="400.4" stroke="#00BF7D" stroke-width="5.7"/>
<ellipse cx="948.4" cy="400.4" rx="5.1" ry="5.75" fill="#00BF7D"/>
<text x="987.8" y="409.4" font-size="22.5" letter-spacing="0.347" fill="#000">FNEMQPIVDRQ (11 aa AliA ligand)</text>
<line x1="927.9" x2="968.8" y1="450.6" y2="450.6" stroke="#00B0F6" stroke-width="5.7"/>
<ellipse cx="948.4" cy="450.6" rx="5.1" ry="5.75" fill="#00B0F6"/>
<text x="987.8" y="459.6" font-size="22.5" letter-spacing="0.276" fill="#000">FNEMQPIVDRQAAKG (15 aa AliA ligand)</text>
<line x1="927.9" x2="968.8" y1="500.8" y2="500.8" stroke="#E76BF3" stroke-width="5.7"/>
<ellipse cx="948.4" cy="500.8" rx="5.1" ry="5.75" fill="#E76BF3"/>
<text x="987.8" y="509.8" font-size="22.5" letter-spacing="0.011" fill="#000">no peptide</text>
</svg>
</body>
</html>
